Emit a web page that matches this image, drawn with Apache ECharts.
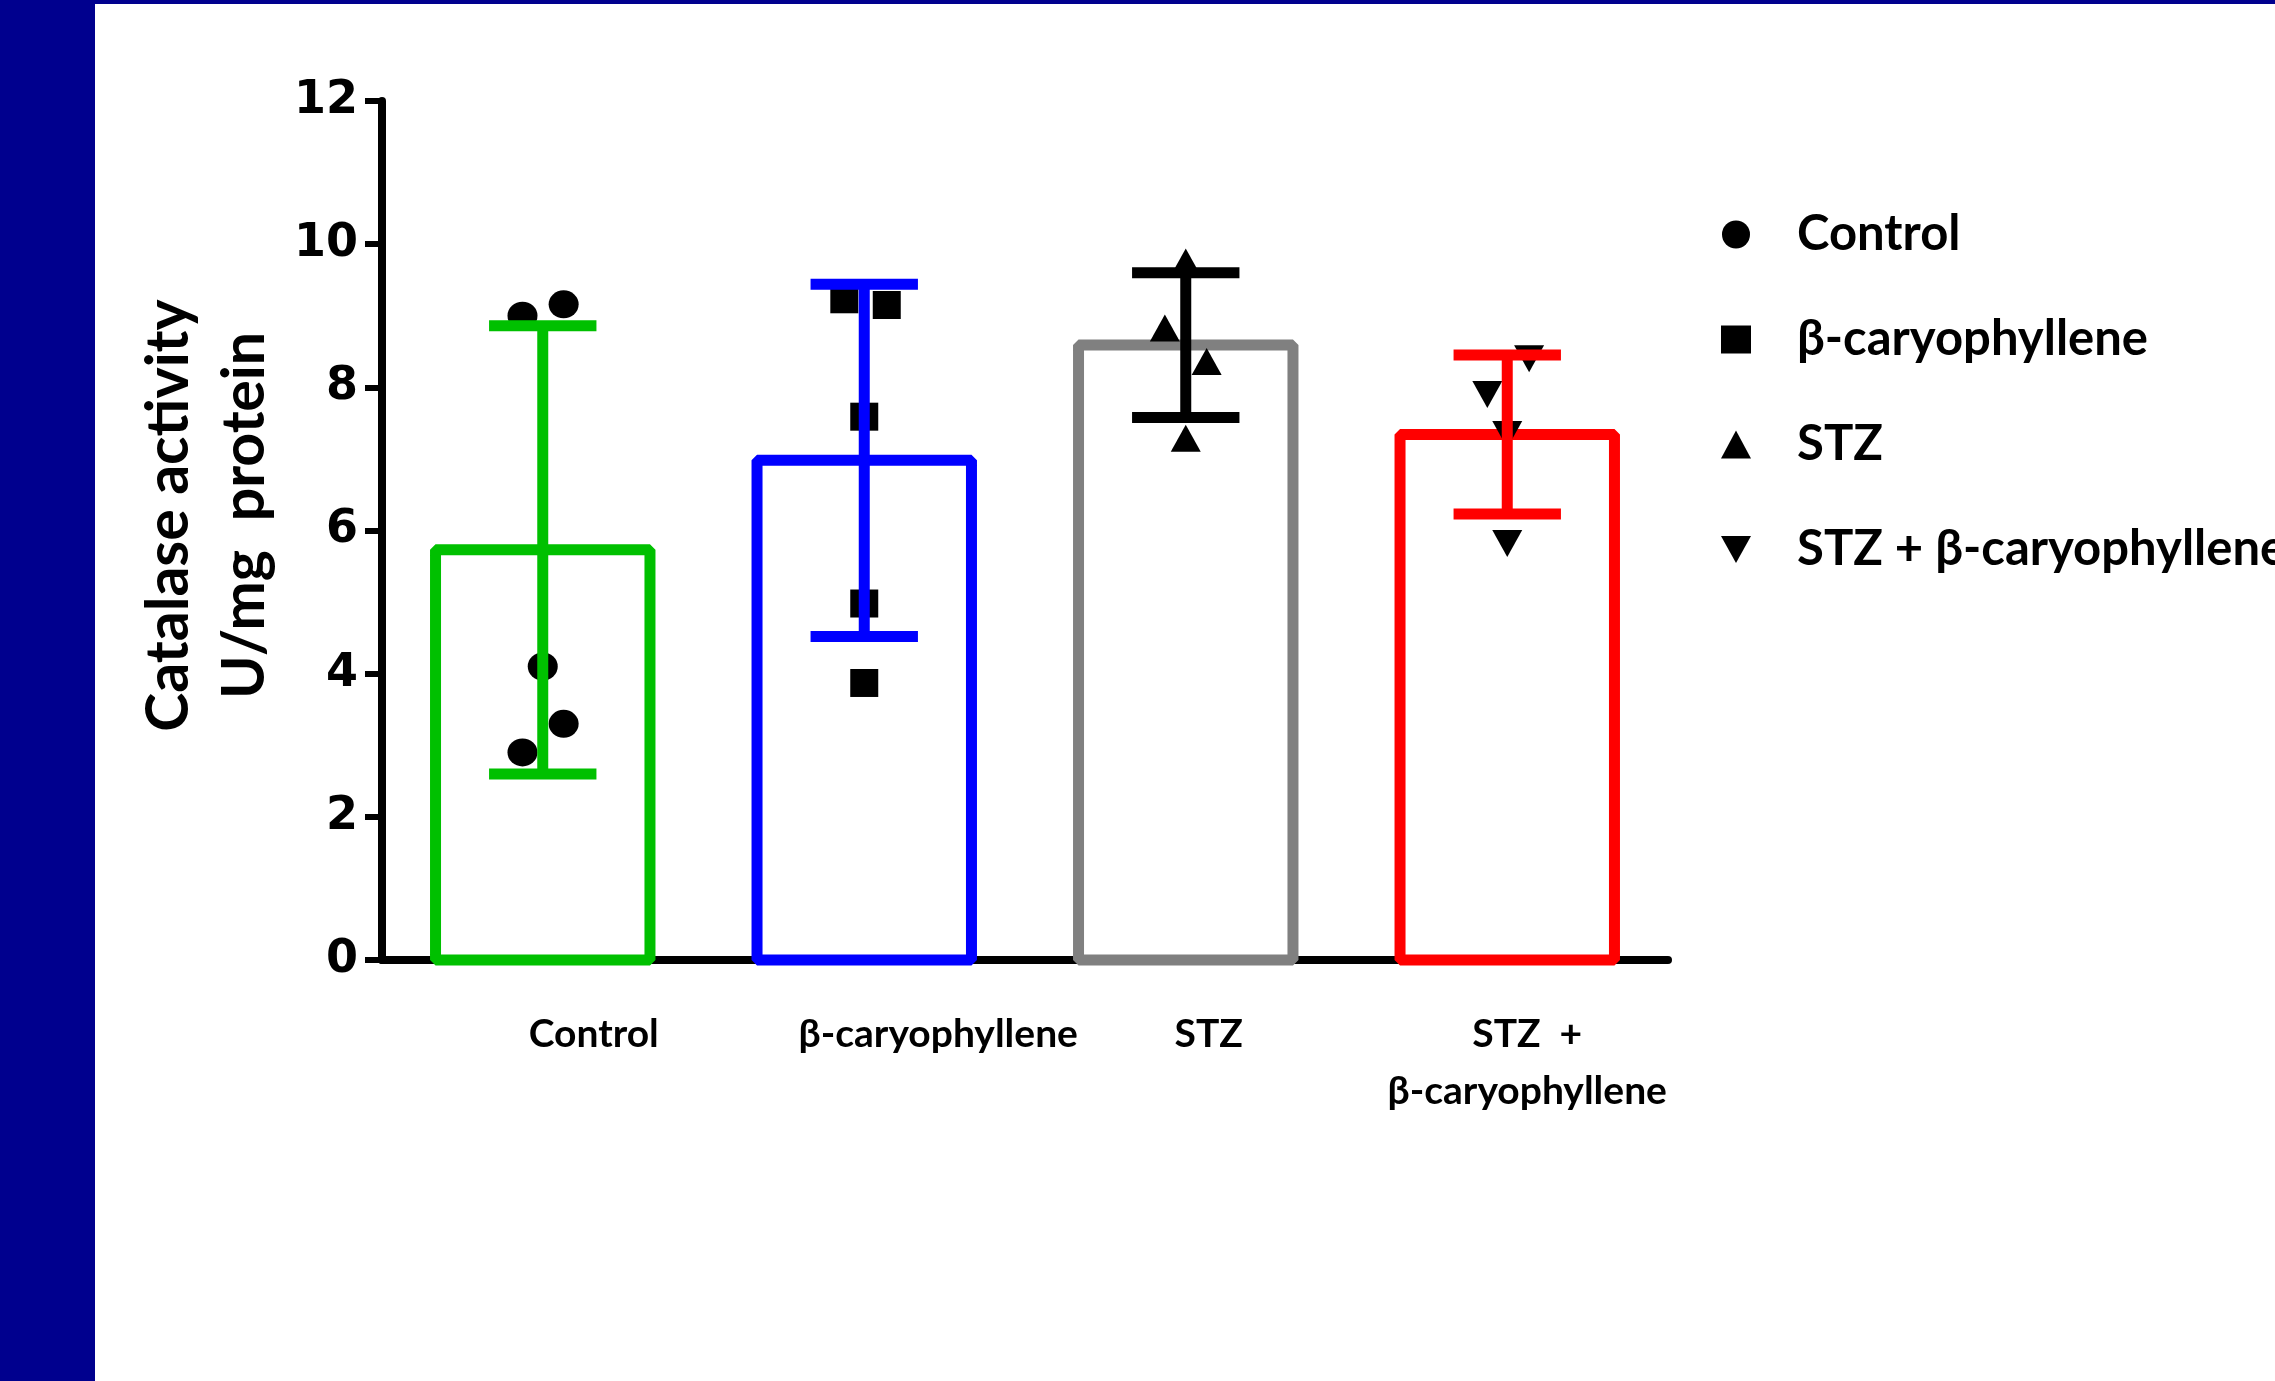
<!DOCTYPE html>
<html>
<head>
<meta charset="utf-8">
<script src="https://cdn.jsdelivr.net/npm/echarts@6/dist/echarts.min.js"></script>
<style>
html,body{margin:0;padding:0;background:#fff;}
#chart{width:2275px;height:1381px;}
</style>
</head>
<body>
<div id="chart"></div>
<script>
// ---- data ----
const categories = ['Control', 'β-caryophyllene', 'STZ', 'STZ  +\nβ-caryophyllene'];
const legendNames = ['Control', 'β-caryophyllene', 'STZ', 'STZ + β-caryophyllene'];
const means = [5.73, 6.98, 8.59, 7.34];
const sds = [3.13, 2.46, 1.01, 1.11];
const controlPts = [9.0, 9.16, 4.1, 3.3, 2.9];
const controlJitter = [-0.063, 0.065, 0, 0.065, -0.063];
const caryoPts = [9.23, 9.15, 7.59, 4.98, 3.87];
const caryoJitter = [-0.062, 0.07, 0, 0, 0];
const stzPts = [9.75, 8.83, 8.36, 7.29];
const stzJitter = [0, -0.065, 0.065, 0];
const stzCaryoPts = [8.40, 7.9, 7.34, 5.82];
const stzCaryoJitter = [0.068, -0.062, 0, 0];
const yTicks = [0, 2, 4, 6, 8, 10, 12];

// ---- styles ----
const barColors = ['#00C000', '#0000FF', '#808080', '#FF0000'];
const errColors = ['#00C000', '#0000FF', '#000000', '#FF0000'];
const labelOffsets = [102, 148, 46, 40];
const legendIcons = ['circle', 'rect', 'triangle', 'path://M0,0 L10,0 L5,9 Z'];

function pts(vals, jit, gi) { return vals.map((v, i) => [gi + jit[i], v]); }

const chart = echarts.init(document.getElementById('chart'));
const option = {
  animation: false,
  backgroundColor: '#ffffff',
  graphic: [
    {type: 'rect', shape: {x: 0, y: 0, width: 95, height: 1381}, style: {fill: '#00008E'}, z: 100},
    {type: 'rect', shape: {x: 0, y: 0, width: 2275, height: 4}, style: {fill: '#00008E'}, z: 100}
  ],
  grid: {left: 382, top: 101, width: 1286, height: 859},
  legend: {
    data: legendNames.map((n, i) => ({name: n, icon: legendIcons[i]})),
    orient: 'vertical',
    left: 1716,
    top: 205,
    itemWidth: 30,
    itemHeight: 28,
    itemGap: 56,
    textStyle: {fontFamily: 'Lato', fontWeight: 'bold', fontSize: 49, lineHeight: 49, color: '#000', padding: [0, 0, 0, 41]}
  },
  xAxis: [
    {
      type: 'category',
      data: categories.map((c, i) => ({value: c, textStyle: {padding: [0, 0, 0, labelOffsets[i]]}})),
      axisLine: {lineStyle: {color: '#000', width: 8}},
      axisTick: {alignWithLabel: true, length: 14, lineStyle: {color: '#000', width: 5}},
      axisLabel: {fontFamily: 'Lato', fontWeight: 'bold', fontSize: 39, lineHeight: 57, color: '#000', margin: 46, interval: 0}
    },
    {type: 'value', min: -0.5, max: 3.5, show: false}
  ],
  yAxis: {
    type: 'value', min: 0, max: 12, interval: 2,
    name: 'Catalase activity\nU/mg  protein',
    nameLocation: 'middle',
    nameRotate: 90,
    nameGap: 94,
    nameTextStyle: {fontFamily: 'Lato', fontWeight: 'bold', fontSize: 59, lineHeight: 76, color: '#000', padding: [0, 0, 0, 30]},
    splitLine: {show: false},
    axisLine: {show: true, onZero: false, lineStyle: {color: '#000', width: 8}},
    axisTick: {show: true, length: 17, lineStyle: {color: '#000', width: 6}},
    axisLabel: {fontFamily: 'DejaVu Sans', fontWeight: 'bold', fontSize: 46, color: '#000', margin: 24,
      formatter: function (v) { return yTicks.indexOf(v) >= 0 ? String(v) : ''; }}
  },
  series: [
    {
      type: 'custom', name: 'bars', xAxisIndex: 0, z: 2, silent: true,
      data: means.map((m, i) => [i, m]),
      renderItem: function (params, api) {
        const i = api.value(0), m = api.value(1);
        const base = api.coord([i, 0]);
        const top = api.coord([i, m]);
        const w = api.size([1, 0])[0] * 0.667;
        return {type: 'rect',
          shape: {x: base[0] - w / 2, y: top[1], width: w, height: base[1] - top[1]},
          style: {fill: 'rgba(255,255,255,0)', stroke: barColors[i], lineWidth: 11, lineJoin: 'bevel'}};
      }
    },
    {type: 'scatter', name: legendNames[0], xAxisIndex: 1, symbol: 'circle', symbolSize: [30, 28], itemStyle: {color: '#000', opacity: 1}, z: 3, data: pts(controlPts, controlJitter, 0)},
    {type: 'scatter', name: legendNames[1], xAxisIndex: 1, symbol: 'rect', symbolSize: 28, itemStyle: {color: '#000', opacity: 1}, z: 3, data: pts(caryoPts, caryoJitter, 1)},
    {type: 'scatter', name: legendNames[2], xAxisIndex: 1, symbol: 'triangle', symbolSize: [30, 27], itemStyle: {color: '#000', opacity: 1}, z: 3, data: pts(stzPts, stzJitter, 2)},
    {type: 'scatter', name: legendNames[3], xAxisIndex: 1, symbol: 'triangle', symbolRotate: 180, symbolSize: [30, 27], itemStyle: {color: '#000', opacity: 1}, z: 3, data: pts(stzCaryoPts, stzCaryoJitter, 3)},
    {
      type: 'custom', name: 'err', xAxisIndex: 0, z: 4,
      data: means.map((m, i) => [i, m, sds[i]]),
      renderItem: function (params, api) {
        const i = api.value(0), m = api.value(1), s = api.value(2);
        const hi = api.coord([i, m + s]);
        const lo = api.coord([i, m - s]);
        const half = api.size([1, 0])[0] * 0.167;
        const st = {stroke: errColors[i], lineWidth: 11};
        return {type: 'group', children: [
          {type: 'line', shape: {x1: hi[0], y1: hi[1], x2: lo[0], y2: lo[1]}, style: st},
          {type: 'line', shape: {x1: hi[0] - half, y1: hi[1], x2: hi[0] + half, y2: hi[1]}, style: st},
          {type: 'line', shape: {x1: lo[0] - half, y1: lo[1], x2: lo[0] + half, y2: lo[1]}, style: st}
        ]};
      }
    }
  ]
};
chart.setOption(option);
</script>
</body>
</html>
